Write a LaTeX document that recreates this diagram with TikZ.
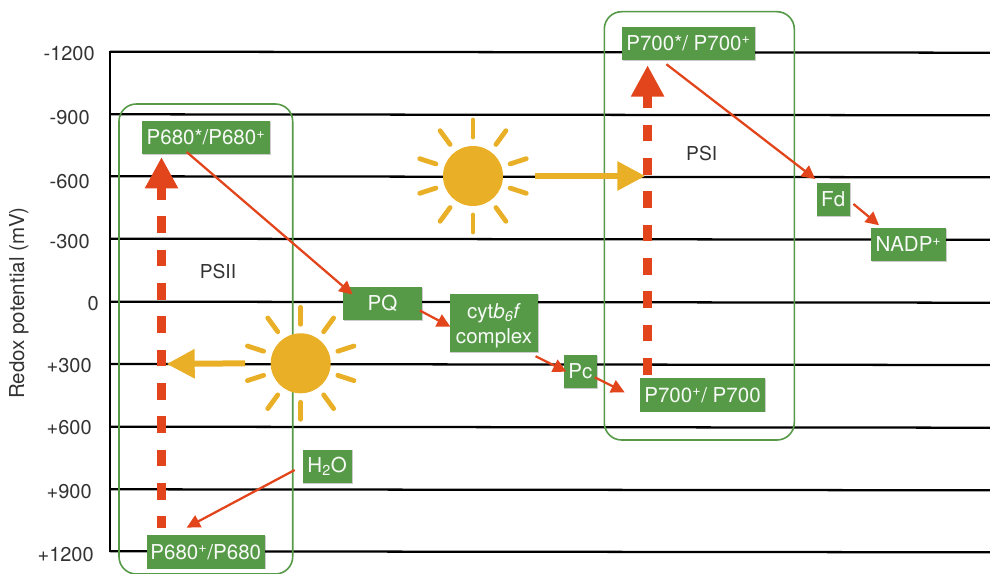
\documentclass[tikz,border=0pt]{standalone}
\usepackage{fontspec}
\setmainfont{TeX Gyre Heros}
\usetikzlibrary{arrows.meta,shadows}
\definecolor{leaf}{HTML}{569A48}
\definecolor{ember}{HTML}{E2451B}
\definecolor{amber}{HTML}{E9B027}
\definecolor{ink}{HTML}{333333}
\tikzstyle{level}=[draw=black,line width=1.7pt]
\tikzstyle{tick}=[font=\fontsize{15}{18}\selectfont,text=ink,inner sep=0,anchor=east]
\tikzstyle{photosystem}=[draw=leaf,line width=1.2pt,rounded corners=13pt]
\tikzstyle{carrier}=[fill=leaf,text=white!95!leaf,inner sep=0,align=center,minimum height=25pt,
	font=\fontsize{15.4}{19}\selectfont,drop shadow={shadow xshift=0.6pt,shadow yshift=-0.6pt,opacity=0.2,fill=black}]
\tikzstyle{transfer}=[draw=ember,line width=1.7pt,-{Triangle[length=10pt,width=10pt]}]
\tikzstyle{excite}=[draw=ember,line width=6.5pt,-{Triangle[length=23.5pt,width=23.5pt]}]
\tikzstyle{light}=[draw=amber,line width=4.5pt,-{Triangle[length=21pt,width=21pt]}]
\tikzstyle{sun}=[circle,fill=amber,inner sep=0,minimum size=45pt]
\tikzstyle{ray}=[draw=amber,line width=3.6pt,line cap=round]
\begin{document}
\begin{tikzpicture}[x=0.75pt,y=-0.75pt]
\useasboundingbox (0,0) rectangle (990,574);
\def\rayin{39}
\def\rayout{56}

%   Potential levels
	\foreach \y/\lab/\r/\dy [count=\n] in {51.7/-1200/95/2,114.3/-900/90/3,176.3/-600/90/5,238.7/-300/90/3,301.7/0/99/2,364/+300/92/2,426.7/+600/92/1,489.3/+900/92/2,551.3/+1200/94/3} {
		\draw[level] (110,\y) -- (990,\y+1);
		\node[tick] (tick\n) at (\r,\y+\dy) {\lab};
	}
	\draw[level] (110,50.8) -- (110,552.2);
	\node[tick,anchor=center,rotate=90,font=\fontsize{15.4}{18}\selectfont] (axislabel) at (19,303) {Redox potential (mV)};

%   Photosystems
	\draw[photosystem] (119,104) rectangle (292.7,574);
	\draw[photosystem] (604.3,11.7) rectangle (794.3,440);
	\node[font=\fontsize{14.4}{17}\selectfont,text=ink,inner sep=0] (psii) at (218,272) {PSII};
	\node[font=\fontsize{14.4}{17}\selectfont,text=ink,inner sep=0] (psi) at (701.7,154) {PSI};

%   Carriers
	\node[carrier,minimum width=96.2pt] (p680star) at (206,137.7) {P680*/P680\textsuperscript{+}};
	\node[carrier,minimum width=88.7pt] (p680plus) at (205.8,552) {P680\textsuperscript{+}/P680};
	\node[carrier,minimum width=36.8pt] (water) at (327.2,466.2) {H\textsubscript{2}O};
	\node[carrier,minimum width=58.9pt] (pq) at (382.5,303.5) {PQ};
	\node[carrier,minimum width=66.6pt,minimum height=43.7pt] (cyt) at (494,323) {\rule{0pt}{15pt}cyt\textit{b\textsubscript{6}f}\\complex};
	\node[carrier,minimum width=25pt] (pc) at (580.3,371.5) {Pc};
	\node[carrier,minimum width=93.8pt] (p700plus) at (702.5,395) {P700\textsuperscript{+}/ P700};
	\node[carrier,minimum width=99.8pt] (p700star) at (688.5,43.3) {P700*/ P700\textsuperscript{+}};
	\node[carrier,minimum width=25pt] (fd) at (833.2,199.3) {Fd};
	\node[carrier,minimum width=56.5pt] (nadp) at (908.6,244.5) {NADP\textsuperscript{+}};

%   Excitation
	\draw[excite,dash pattern=on 12.5pt off 12.5pt,dash phase=3.5pt] ([shift={(-44.3,-6.7)}]p680plus.north) -- ([shift={(-44.5,2.4)}]p680star.south);
	\draw[excite,dash pattern=on 12.5pt off 12.5pt] ([shift={(-54.9,-3.3)}]p700plus.north) -- ([shift={(-40.9,5)}]p700star.south);

%   Suns
	\begin{scope}[shift={(300.7,363.3)}]
	\node[sun] (sunii) at (0,0) {};
	\foreach \a in {18,54,...,342}
		\draw[ray] (\a:\rayin) -- (\a:\rayout);
	\end{scope}
	\begin{scope}[shift={(473,176)}]
	\node[sun] (suni) at (0,0) {};
	\foreach \a in {18,54,...,342}
		\draw[ray] (\a:\rayin) -- (\a:\rayout);
	\end{scope}
	\coordinate (lightii) at (166.7,364);
	\coordinate (lighti) at (645.3,176);
	\draw[light] ([shift={(-25.4,0)}]sunii.west) -- (lightii);
	\draw[light] ([shift={(31.7,0)}]suni.east) -- (lighti);

%   Electron path
	\coordinate (gap) at (624.6,392.3);
	\draw[transfer] ([shift={(-19.3,-2.6)}]p680star.south) -- ([shift={(9.7,8)}]pq.north west);
	\draw[transfer] ([shift={(-2.2,7)}]pq.east) -- ([shift={(1,3.7)}]cyt.west);
	\draw[transfer] ([shift={(-3.1,3.8)}]cyt.south east) -- ([shift={(3,0.2)}]pc.west);
	\draw[transfer] ([shift={(-2.5,5.8)}]pc.east) -- (gap);
	\draw[transfer] ([shift={(-22.1,4)}]p700star.south) -- ([shift={(-1,-3.4)}]fd.north west);
	\draw[transfer] ([shift={(3.3,4.7)}]fd.east) -- ([shift={(8.4,-2.3)}]nadp.north west);
	\draw[transfer] ([shift={(-7.7,3.8)}]water.west) -- ([shift={(-19.1,-7.5)}]p680plus.north);

\end{tikzpicture}
\end{document}
